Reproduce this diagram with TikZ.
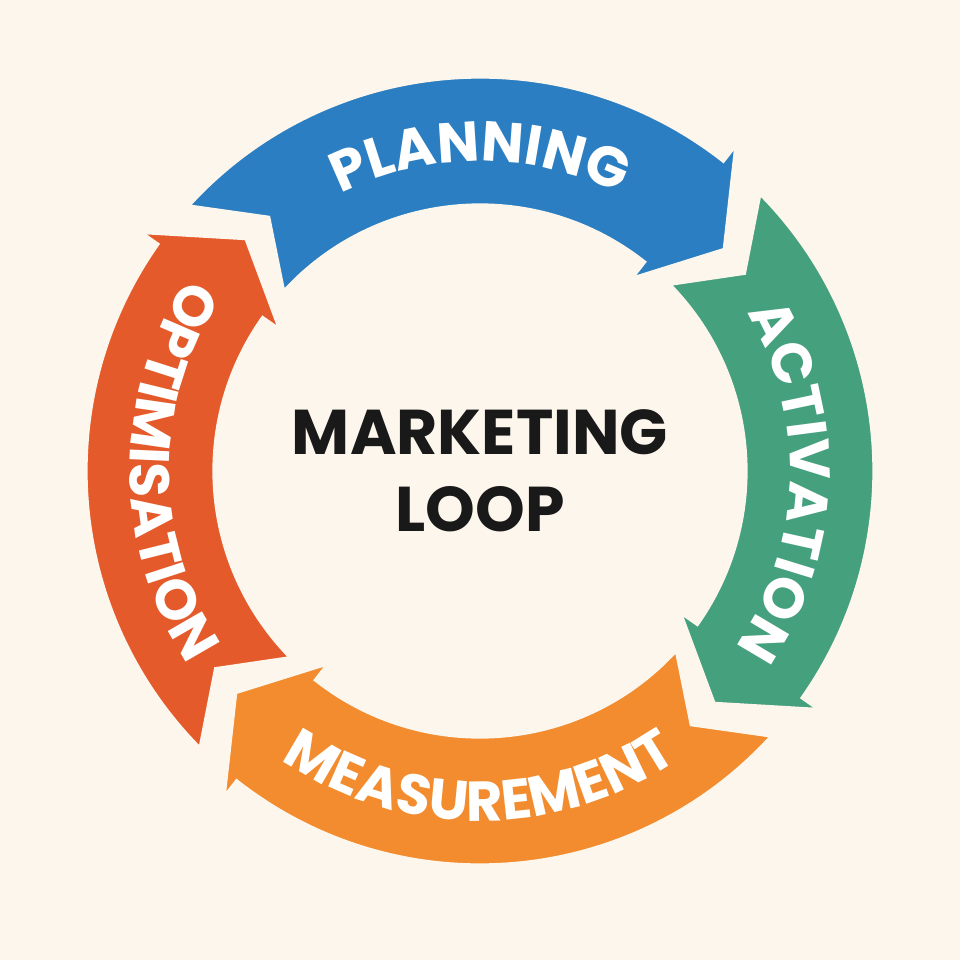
\documentclass[tikz,border=0pt]{standalone}
\usepackage{fontspec}
\setmainfont{Poppins}
\usetikzlibrary{decorations.text}
\definecolor{bg}{HTML}{FDF6EC}
\definecolor{cplan}{HTML}{2B7EC1}
\definecolor{cact}{HTML}{45A07E}
\definecolor{cmeas}{HTML}{F28C2E}
\definecolor{copt}{HTML}{E45A2A}
\newcommand\loopseg[3]{%
\fill[#3,draw=bg,line width=3pt] (#1:395) arc[start angle=#1,end angle=#2,radius=395] -- (#2:418) -- ({#2-10}:330) -- (#2:242) -- (#2:265) arc[start angle=#2,end angle=#1,radius=265] -- ({#1-8}:330) -- cycle;}
\tikzset{arctext/.style={decorate,decoration={text along path,text align=center,text color=white,text={|\fontsize{32}{32}\bfseries\selectfont|#1}}}}
\begin{document}
\begin{tikzpicture}[scale=0.02]
\fill[bg] (-480,-489) rectangle (480,471);
\useasboundingbox (-480,-489) rectangle (480,471);
\loopseg{138}{52}{cplan}
\loopseg{45}{-35}{cact}
\loopseg{-42}{-128}{cmeas}
\loopseg{-135}{-215}{copt}
\path[arctext=PLANNING] (140:310) arc[start angle=140,end angle=40,radius=310];
\path[arctext=ACTIVATION] (58:310) arc[start angle=58,end angle=-62,radius=310];
\path[arctext=MEASUREMENT] (-140:350) arc[start angle=-140,end angle=-40,radius=350];
\path[arctext=OPTIMISATION] (120:350) arc[start angle=120,end angle=240,radius=350];
\node[font=\fontsize{36}{44}\bfseries\selectfont,align=center,text=black!90] (title) at (0,0) {MARKETING\\LOOP};
\end{tikzpicture}
\end{document}
